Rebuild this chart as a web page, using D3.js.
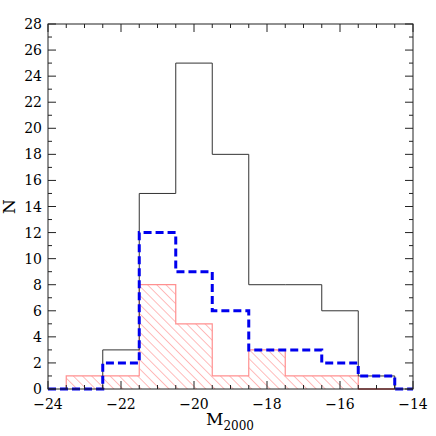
<!DOCTYPE html>
<html>
<head>
<meta charset="utf-8">
<script src="https://cdn.jsdelivr.net/npm/d3@7"></script>
<style>
  body { margin: 0; background: #fff; }
  text { font-family: "DejaVu Serif", "Liberation Serif", serif; fill: #000; }
</style>
</head>
<body>
<script>
// bin left edges (width 1 mag) and counts per bin
var binStarts = [-23.5, -22.5, -21.5, -20.5, -19.5, -18.5, -17.5, -16.5, -15.5];
var binWidth = 1;
var allCounts = [0, 3, 15, 25, 18, 8, 8, 6, 1];
var redCounts = [1, 1, 8, 5, 1, 3, 1, 1, 0];
var blueCounts = [0, 2, 12, 9, 6, 3, 3, 2, 1];
var xTicks = [-24, -22, -20, -18, -16, -14];
var yTicks = [0, 2, 4, 6, 8, 10, 12, 14, 16, 18, 20, 22, 24, 26, 28];

var W = 436, H = 436;
var m = {left: 48, right: 23, top: 24, bottom: 47};

var svg = d3.select("body").append("svg")
    .attr("width", W).attr("height", H);

var x = d3.scaleLinear().domain([-24, -14]).range([m.left, W - m.right]);
var y = d3.scaleLinear().domain([0, 28]).range([H - m.bottom, m.top]);

// hatch pattern for the red histogram (lines running down to the right)
var defs = svg.append("defs");
defs.append("pattern")
    .attr("id", "hatch")
    .attr("patternUnits", "userSpaceOnUse")
    .attr("width", 6.5).attr("height", 6.5)
    .attr("patternTransform", "rotate(-45)")
  .append("line")
    .attr("x1", 0).attr("y1", 0).attr("x2", 0).attr("y2", 6.5)
    .attr("stroke", "#ff6a6a").attr("stroke-width", 0.9);

// step outline from counts; pad adds zero-level ends out to given limits
function stepPoints(counts, padFrom, padTo) {
  var pts = [];
  if (padFrom !== undefined) pts.push([padFrom, 0]);
  binStarts.forEach(function(s, i) {
    pts.push([s, i === 0 ? 0 : counts[i - 1]]);
    pts.push([s, counts[i]]);
  });
  var end = binStarts[binStarts.length - 1] + binWidth;
  pts.push([end, counts[counts.length - 1]]);
  pts.push([end, 0]);
  if (padTo !== undefined) pts.push([padTo, 0]);
  return pts;
}

var line = d3.line().x(function(d) { return x(d[0]); }).y(function(d) { return y(d[1]); });

// red hatched bars
svg.append("g").selectAll("rect")
    .data(binStarts.map(function(s, i) { return {s: s, c: redCounts[i]}; }).filter(function(d) { return d.c > 0; }))
  .enter().append("rect")
    .attr("x", function(d) { return x(d.s); })
    .attr("width", function(d) { return x(d.s + binWidth) - x(d.s); })
    .attr("y", function(d) { return y(d.c); })
    .attr("height", function(d) { return y(0) - y(d.c); })
    .attr("fill", "url(#hatch)");

svg.append("path")
    .attr("d", line(stepPoints(redCounts)))
    .attr("fill", "none").attr("stroke", "#ff9090").attr("stroke-width", 1.2);

// baseline in dark red under the empty red bin
svg.append("line")
    .attr("x1", x(-15.5)).attr("x2", x(-14.5))
    .attr("y1", y(0)).attr("y2", y(0))
    .attr("stroke", "#a02020").attr("stroke-width", 1.2);

// full sample
svg.append("path")
    .attr("d", line(stepPoints(allCounts).slice(2)))
    .attr("fill", "none").attr("stroke", "#333").attr("stroke-width", 1);

// blue dashed
svg.append("path")
    .attr("d", line(stepPoints(blueCounts, -24, -14)))
    .attr("fill", "none").attr("stroke", "#0000ee")
    .attr("stroke-width", 3).attr("stroke-dasharray", "8,4");

// frame with inward ticks on all sides
var frame = svg.append("g").attr("stroke", "#222").attr("stroke-width", 1);
frame.append("rect")
    .attr("x", x(-24)).attr("y", y(28))
    .attr("width", x(-14) - x(-24)).attr("height", y(0) - y(28))
    .attr("fill", "none");

var xMinor = d3.range(-24, -13.99, 0.5);
var yMinor = d3.range(0, 28.01, 1);
frame.selectAll(".xt").data(xMinor).enter().append("path")
    .attr("d", function(v) {
      var len = (Math.abs(v % 2) < 1e-6) ? 8 : 4;
      return "M" + x(v) + "," + y(0) + "v" + (-len) + "M" + x(v) + "," + y(28) + "v" + len;
    });
frame.selectAll(".yt").data(yMinor).enter().append("path")
    .attr("d", function(v) {
      var len = (v % 2 === 0) ? 8 : 4;
      return "M" + x(-24) + "," + y(v) + "h" + len + "M" + x(-14) + "," + y(v) + "h" + (-len);
    });

// tick labels
svg.append("g").selectAll("text").data(xTicks).enter().append("text")
    .attr("x", function(v) { return x(v); })
    .attr("y", y(0) + 20)
    .attr("text-anchor", "middle")
    .attr("font-size", 14)
    .text(function(v) { return "\u2212" + Math.abs(v); });

svg.append("g").selectAll("text").data(yTicks).enter().append("text")
    .attr("x", x(-24) - 6)
    .attr("y", function(v) { return y(v) + 5; })
    .attr("text-anchor", "end")
    .attr("font-size", 14)
    .text(function(v) { return v; });

// axis titles
var xl = svg.append("text")
    .attr("x", 230).attr("y", 425)
    .attr("text-anchor", "middle")
    .attr("font-size", 17);
xl.append("tspan").text("M");
xl.append("tspan").attr("dy", 5).attr("font-size", 12).text("2000");

svg.append("text")
    .attr("transform", "translate(15," + y(14) + ") rotate(-90)")
    .attr("text-anchor", "middle")
    .attr("font-size", 17)
    .text("N");
</script>
</body>
</html>
